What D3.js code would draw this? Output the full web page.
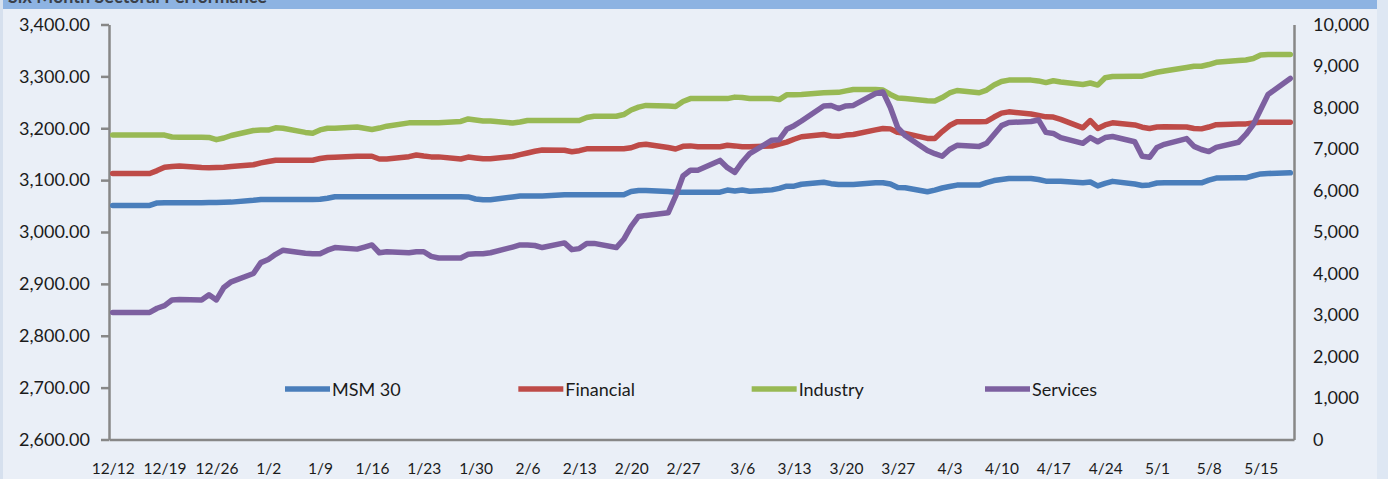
<!DOCTYPE html>
<html>
<head>
<meta charset="utf-8">
<script src="https://cdn.jsdelivr.net/npm/d3@7"></script>
<style>
body { margin: 0; background: #eaeff7; }
svg text { font-family: Lato, "Open Sans", sans-serif; fill: #1b1b1b; }
</style>
</head>
<body>
<svg id="chart"></svg>
<script>
/////////////////////////////////////////////////
///////////////////Data//////////////////////////
/////////////////////////////////////////////////

// trading days (Sat-Wed)
var dates = [
  "2011-12-12","2011-12-13","2011-12-14","2011-12-17","2011-12-18","2011-12-19","2011-12-20","2011-12-21","2011-12-24","2011-12-25","2011-12-26","2011-12-27","2011-12-28","2011-12-31",
  "2012-01-01","2012-01-02","2012-01-03","2012-01-04","2012-01-07","2012-01-08","2012-01-09","2012-01-10","2012-01-11","2012-01-14","2012-01-15","2012-01-16","2012-01-17","2012-01-18","2012-01-21","2012-01-22","2012-01-23","2012-01-24","2012-01-25","2012-01-28","2012-01-29","2012-01-30","2012-01-31",
  "2012-02-01","2012-02-04","2012-02-05","2012-02-06","2012-02-07","2012-02-08","2012-02-11","2012-02-12","2012-02-13","2012-02-14","2012-02-15","2012-02-18","2012-02-19","2012-02-20","2012-02-21","2012-02-22","2012-02-25","2012-02-26","2012-02-27","2012-02-28","2012-02-29",
  "2012-03-03","2012-03-04","2012-03-05","2012-03-06","2012-03-07","2012-03-10","2012-03-11","2012-03-12","2012-03-13","2012-03-14","2012-03-17","2012-03-18","2012-03-19","2012-03-20","2012-03-21","2012-03-24","2012-03-25","2012-03-26","2012-03-27","2012-03-28","2012-03-31",
  "2012-04-01","2012-04-02","2012-04-03","2012-04-04","2012-04-07","2012-04-08","2012-04-09","2012-04-10","2012-04-11","2012-04-14","2012-04-15","2012-04-16","2012-04-17","2012-04-18","2012-04-21","2012-04-22","2012-04-23","2012-04-24","2012-04-25","2012-04-28","2012-04-29","2012-04-30",
  "2012-05-01","2012-05-02","2012-05-05","2012-05-06","2012-05-07","2012-05-08","2012-05-09","2012-05-12","2012-05-13","2012-05-14","2012-05-15","2012-05-16","2012-05-19"
];

// right axis
var msm30 = [
  5640,5640,5640,5640,5700,5705,5705,5705,5705,5710,5710,5715,5720,5765,
  5785,5785,5785,5785,5785,5785,5790,5815,5850,5850,5850,5850,5850,5850,5850,5850,5850,5850,5850,5850,5845,5795,5775,
  5775,5845,5865,5865,5865,5870,5895,5895,5895,5895,5895,5895,5895,5975,6000,6000,5975,5960,5960,5960,5960,
  5960,6010,5990,6010,5980,6015,6050,6105,6105,6150,6200,6165,6145,6145,6145,6185,6185,6155,6070,6065,5970,
  6010,6060,6095,6130,6130,6190,6240,6265,6290,6290,6265,6225,6225,6225,6185,6205,6110,6170,6220,6155,6120,6135,
  6180,6185,6185,6185,6185,6250,6300,6305,6305,6355,6400,6410,6425
];

var financial = [
  6410,6410,6410,6410,6480,6560,6580,6590,6555,6550,6555,6560,6580,6620,
  6665,6700,6730,6730,6730,6730,6770,6795,6800,6825,6825,6825,6760,6760,6815,6855,6830,6810,6810,6760,6805,6785,6765,
  6765,6820,6865,6905,6945,6975,6970,6935,6960,7005,7005,7005,7005,7030,7095,7115,7035,7000,7065,7075,7055,
  7055,7090,7075,7055,7055,7070,7120,7165,7235,7295,7350,7315,7305,7335,7350,7460,7495,7485,7400,7375,7255,
  7255,7420,7565,7655,7655,7665,7770,7865,7895,7845,7810,7775,7770,7715,7510,7685,7495,7580,7630,7580,7525,7495,
  7530,7535,7530,7495,7485,7530,7585,7600,7605,7630,7645,7645,7645
];

var industry = [
  7335,7335,7335,7335,7335,7335,7290,7285,7285,7280,7225,7265,7325,7445,
  7455,7455,7510,7500,7400,7380,7460,7500,7500,7530,7500,7470,7505,7550,7630,7630,7630,7630,7630,7665,7725,7700,7675,
  7675,7625,7650,7685,7685,7685,7685,7685,7685,7760,7790,7790,7830,7940,8010,8050,8035,8025,8145,8215,8215,
  8215,8215,8250,8240,8215,8215,8190,8305,8310,8315,8355,8360,8365,8400,8435,8435,8420,8315,8230,8215,8165,
  8155,8240,8350,8410,8355,8420,8540,8625,8660,8660,8640,8600,8645,8615,8555,8590,8540,8715,8745,8755,8755,8805,
  8850,8880,8965,8995,8995,9035,9090,9130,9145,9180,9265,9275,9275
];

// left axis
var services = [
  2845,2845,2845,2845,2853,2858,2869,2870,2869,2879,2869,2893,2904,2920,
  2941,2947,2957,2965,2959,2958,2958,2965,2970,2967,2971,2975,2960,2962,2960,2962,2962,2953,2950,2950,2957,2958,2958,
  2960,2971,2975,2975,2974,2970,2979,2966,2968,2978,2978,2970,2986,3011,3030,3032,3037,3069,3108,3119,3119,
  3138,3124,3115,3135,3151,3177,3178,3198,3205,3214,3243,3244,3238,3243,3244,3267,3270,3240,3201,3186,3157,
  3151,3146,3159,3167,3165,3171,3188,3205,3211,3213,3216,3192,3190,3182,3171,3182,3174,3182,3184,3174,3146,3144,
  3163,3169,3180,3165,3159,3155,3163,3173,3188,3207,3236,3265,3296
];

var seriesNames = ["MSM 30", "Financial", "Industry", "Services"];
var xTickDates = ["2011-12-12","2011-12-19","2011-12-26","2012-01-02","2012-01-09","2012-01-16","2012-01-23","2012-01-30",
  "2012-02-06","2012-02-13","2012-02-20","2012-02-27","2012-03-06","2012-03-13","2012-03-20","2012-03-27",
  "2012-04-03","2012-04-10","2012-04-17","2012-04-24","2012-05-01","2012-05-08","2012-05-15"];
var leftTicks = [2600, 2700, 2800, 2900, 3000, 3100, 3200, 3300, 3400];
var rightTicks = [0, 1000, 2000, 3000, 4000, 5000, 6000, 7000, 8000, 9000, 10000];

/////////////////////////////////////////////////
///////////////////Chart/////////////////////////
/////////////////////////////////////////////////

var svgWidth = 1388, svgHeight = 479;
var plotLeft = 109, plotRight = 1294, plotTop = 24.5, plotBottom = 439.5;
var parse = d3.timeParse("%Y-%m-%d");
var day = 24 * 3600 * 1000;

var svg = d3.select("#chart")
.attr("width", svgWidth)
.attr("height", svgHeight);

// background, side strips and title bar
svg.append("rect").attr("width", svgWidth).attr("height", svgHeight).attr("fill", "#eaeff7");
svg.append("rect").attr("x", 0).attr("width", 3).attr("height", svgHeight).attr("fill", "#d6e0ee");
svg.append("rect").attr("x", 1377).attr("width", 11).attr("height", svgHeight).attr("fill", "#dee7f3");
svg.append("rect").attr("x", 3).attr("width", 1374).attr("height", 9).attr("fill", "#8db3e2");
svg.append("text")
.attr("x", 8).attr("y", 3)
.style("font-size", "18px").style("font-weight", "bold").style("fill", "#3a3f48")
.text("Six Month Sectoral Performance");

var x = d3.scaleTime()
.domain([new Date(+parse(dates[0]) - day / 2), new Date(+parse(dates[dates.length - 1]) + day / 2)])
.range([plotLeft, plotRight]);

var yLeft = d3.scaleLinear().domain([2600, 3400]).range([plotBottom, plotTop]);
var yRight = d3.scaleLinear().domain([0, 10000]).range([plotBottom, plotTop]);

var color = d3.scaleOrdinal()
.domain(seriesNames)
.range(["#4a7ebb", "#be4b48", "#98b954", "#7d60a0"]);

// axes
var gx = svg.append("g")
.attr("transform", "translate(0," + plotBottom + ")")
.call(d3.axisBottom(x)
  .tickValues(xTickDates.map(parse))
  .tickFormat(d3.timeFormat("%-m/%-d"))
  .tickSize(0).tickSizeOuter(0).tickPadding(23));

var gl = svg.append("g")
.attr("transform", "translate(" + plotLeft + ",0)")
.call(d3.axisLeft(yLeft)
  .tickValues(leftTicks)
  .tickFormat(d3.format(",.2f"))
  .tickSize(8).tickSizeOuter(0).tickPadding(11));

var gr = svg.append("g")
.attr("transform", "translate(" + plotRight + ",0)")
.call(d3.axisRight(yRight)
  .tickValues(rightTicks)
  .tickFormat(d3.format(","))
  .tickSize(0).tickSizeOuter(0).tickPadding(19));

gx.selectAll("text").style("font-size", "15.5px");
gl.selectAll("text").style("font-size", "18px");
gr.selectAll("text").style("font-size", "18px");
svg.selectAll(".domain, .tick line")
.attr("stroke", "#878787")
.attr("stroke-width", 2.5);

// lines
var table = seriesNames.map(function (name, k) {
  var vals = [msm30, financial, industry, services][k];
  return {
    name: name,
    scale: name === "Services" ? yLeft : yRight,
    points: dates.map(function (d, i) { return {date: parse(d), value: vals[i]}; })
  };
});

svg.selectAll(".series")
.data(table)
.enter()
.append("path")
.attr("class", "series")
.attr("fill", "none")
.attr("stroke", function (d) { return color(d.name); })
.attr("stroke-width", 5.5)
.attr("stroke-linejoin", "round")
.attr("stroke-linecap", "round")
.attr("d", function (s) {
  return d3.line()
  .x(function (p) { return x(p.date); })
  .y(function (p) { return s.scale(p.value); })(s.points);
});

// legend
var legendX = d3.scalePoint().domain(seriesNames).range([285, 985]);
var legend = svg.selectAll(".legend")
.data(seriesNames)
.enter()
.append("g")
.attr("class", "legend")
.attr("transform", function (d) { return "translate(" + legendX(d) + ",389)"; });

legend.append("line")
.attr("x1", 0).attr("x2", 45)
.attr("stroke", function (d) { return color(d); })
.attr("stroke-width", 5.5);

legend.append("text")
.attr("x", 47).attr("y", 6.5)
.style("font-size", "18px")
.text(function (d) { return d; });
</script>
</body>
</html>
